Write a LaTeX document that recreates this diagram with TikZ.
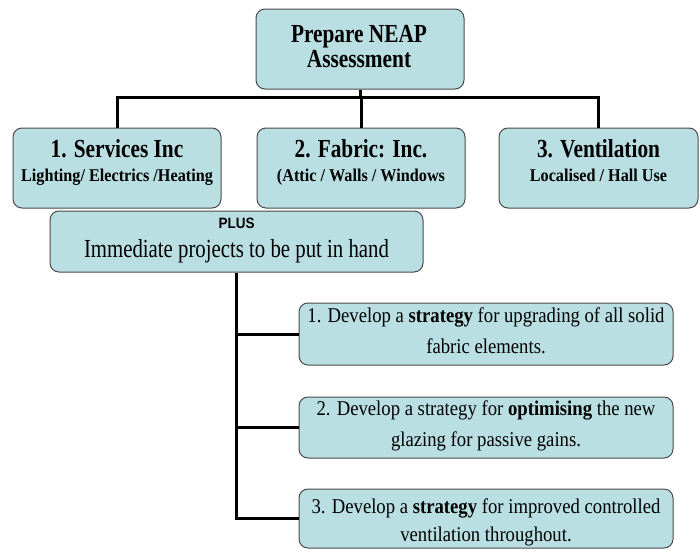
\documentclass[tikz,border=0pt]{standalone}
\usepackage{fontspec}
\setmainfont{Liberation Serif}[FakeStretch=0.82]
\newfontfamily\subfont{Liberation Serif}[FakeStretch=0.9]
\newfontfamily\stratfont{Liberation Serif}[FakeStretch=0.89]
\newfontfamily\immfont{Liberation Serif}[FakeStretch=0.8]
\setsansfont{Liberation Sans}[FakeStretch=0.9]
\definecolor{boxfill}{HTML}{B9DFE3}
\definecolor{boxline}{HTML}{4A4A4A}
\tikzset{
  box/.style={draw=boxline, line width=1pt, fill=boxfill, rounded corners=9pt, inner sep=0pt},
  conn/.style={line width=3pt, black},
  title/.style={anchor=base, inner sep=0pt, font=\fontsize{26}{28}\selectfont\bfseries},
  sub/.style={anchor=base, inner sep=0pt, font=\subfont\fontsize{18}{20}\selectfont\bfseries},
  plus/.style={anchor=base, inner sep=0pt, font=\sffamily\fontsize{15}{16}\selectfont\bfseries},
  imm/.style={anchor=base, inner sep=0pt, font=\immfont\fontsize{26}{28}\selectfont},
  strat/.style={anchor=base, inner sep=0pt, font=\stratfont\fontsize{21}{24}\selectfont}
}
\begin{document}
\begin{tikzpicture}[x=1pt,y=-1pt]
\useasboundingbox (0,0) rectangle (700,549);
% boxes
\node[box, minimum width=208pt, minimum height=80pt] (top) at (360,49) {};
\node[box, minimum width=208pt, minimum height=80pt] (srv) at (117,168) {};
\node[box, minimum width=208pt, minimum height=80pt] (fab) at (361,168) {};
\node[box, minimum width=199pt, minimum height=80pt] (ven) at (598.5,168) {};
\node[box, minimum width=373pt, minimum height=61pt] (plusbox) at (236.5,241.5) {};
\node[box, minimum width=374pt, minimum height=62pt] (s1) at (486,334) {};
\node[box, minimum width=374pt, minimum height=61pt] (s2) at (486,427.5) {};
\node[box, minimum width=374pt, minimum height=59pt] (s3) at (486,518.5) {};
% connectors
\coordinate (bus) at (0,97);
\coordinate (spine) at (236.5,0);
\draw[conn] (top.south) -- (top.south |- bus);
\draw[conn] (srv.north) -- (srv.north |- bus) -- (ven.north |- bus) -- (ven.north);
\draw[conn] (fab.north) -- (fab.north |- bus);
\draw[conn] (spine |- plusbox.south) -- (spine |- s3.west) -- (s3.west);
\draw[conn] (spine |- s1.west) -- (s1.west);
\draw[conn] (spine |- s2.west) -- (s2.west);
% texts
\node[title] (t1) at (359,42) {Prepare NEAP};
\node[title] (t2) at (359,67) {Assessment};
\node[title] (srvT) at (117,157) {1. Services Inc};
\node[sub] (srvS) at (117,181) {Lighting/ Electrics /Heating};
\node[title] (fabT) at (361,157) {2. Fabric: Inc.};
\node[sub] (fabS) at (361,181) {(Attic / Walls / Windows};
\node[title] (venT) at (598.5,157) {3. Ventilation};
\node[sub] (venS) at (598.5,181) {Localised / Hall Use};
\node[plus] (plusT) at (236.5,228) {PLUS};
\node[imm] (immT) at (236.5,257) {Immediate projects to be put in hand};
\node[strat] (s1a) at (486,322) {1. Develop a \textbf{strategy} for upgrading of all solid};
\node[strat] (s1b) at (486,353) {fabric elements.};
\node[strat] (s2a) at (486,415) {2. Develop a strategy for \textbf{optimising} the new};
\node[strat] (s2b) at (486,446.5) {glazing for passive gains.};
\node[strat] (s3a) at (486,513) {3. Develop a \textbf{strategy} for improved controlled};
\node[strat] (s3b) at (486,541.5) {ventilation throughout.};
\end{tikzpicture}
\end{document}
